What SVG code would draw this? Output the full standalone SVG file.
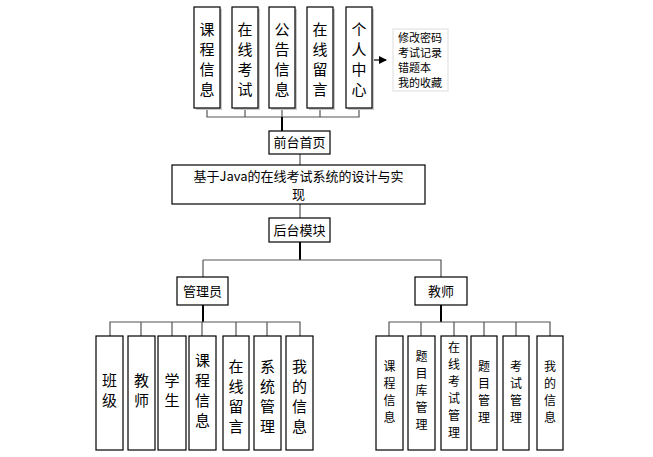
<svg xmlns="http://www.w3.org/2000/svg" width="653" height="457" viewBox="0 0 653 457">
<style>
.b{fill:#fff;stroke:#000;stroke-width:1.2}
.s{fill:#c8c8c8}
text{font-family:"Noto Sans CJK SC","Liberation Sans",sans-serif;fill:#000;text-anchor:middle}
.t{font-size:15px}
.m{font-size:13px}
.r{font-size:12px}
.n{font-size:11px;text-anchor:start}
.c{fill:none;stroke:#555;stroke-width:1.2}
.k{fill:none;stroke:#000;stroke-width:2}
</style>
<defs><marker id="a" markerWidth="8" markerHeight="8" refX="7" refY="4" orient="auto" markerUnits="userSpaceOnUse"><path d="M0,0L8,4L0,8z"/></marker></defs>
<g id="connectors">
<path class="c" d="M207,108V117H359V108M245,108V117M282,108V117M320,108V117"/>
<path class="k" d="M282,117V131"/>
<path class="c" d="M300,154V165M300,204V218"/>
<path class="k" d="M300,242V260"/>
<path class="c" d="M203,260H441V277M203,260V277"/>
<path class="k" d="M203,305V322M441,305V322"/>
<path class="c" d="M110,336V322H300V336M141,322V336M172,322V336M202,322V336M236,322V336M267,322V336"/>
<path class="c" d="M389,336V322H550V336M421,322V336M454,322V336M484,322V336M516,322V336"/>
<path d="M372,60H386" stroke="#333" stroke-width="1.5" marker-end="url(#a)"/>
</g>
<g id="top" class="t">
<g id="n1"><rect class="s" x="196" y="9" width="26" height="101"/><rect class="b" x="194" y="7" width="26" height="101"/><text x="207" y="35">课</text><text x="207" y="55">程</text><text x="207" y="75">信</text><text x="207" y="95">息</text></g>
<g id="n2"><rect class="s" x="234" y="9" width="26" height="101"/><rect class="b" x="232" y="7" width="26" height="101"/><text x="245" y="35">在</text><text x="245" y="55">线</text><text x="245" y="75">考</text><text x="245" y="95">试</text></g>
<g id="n3"><rect class="s" x="271" y="9" width="26" height="101"/><rect class="b" x="269" y="7" width="26" height="101"/><text x="282" y="35">公</text><text x="282" y="55">告</text><text x="282" y="75">信</text><text x="282" y="95">息</text></g>
<g id="n4"><rect class="s" x="309" y="9" width="26" height="101"/><rect class="b" x="307" y="7" width="26" height="101"/><text x="320" y="35">在</text><text x="320" y="55">线</text><text x="320" y="75">留</text><text x="320" y="95">言</text></g>
<g id="n5"><rect class="s" x="348" y="9" width="26" height="101"/><rect class="b" x="346" y="7" width="26" height="101"/><text x="359" y="35">个</text><text x="359" y="55">人</text><text x="359" y="75">中</text><text x="359" y="95">心</text></g>
<g id="note"><rect x="393" y="29" width="55" height="62" fill="#fff" stroke="#ddd"/><text class="n" x="398" y="42">修改密码</text><text class="n" x="398" y="57">考试记录</text><text class="n" x="398" y="72">错题本</text><text class="n" x="398" y="87">我的收藏</text></g>
</g>
<g id="home"><rect class="b" x="269" y="131" width="61" height="23"/><text class="m" x="299.5" y="147">前台首页</text></g>
<g id="title"><rect class="b" x="172" y="165" width="253" height="39"/><text class="m" x="298.5" y="181">基于Java的在线考试系统的设计与实</text><text class="m" x="298.5" y="199">现</text></g>
<g id="back"><rect class="b" x="269" y="218" width="61" height="24"/><text class="m" x="299.5" y="235">后台模块</text></g>
<g id="admin"><rect class="b" x="177" y="277" width="51" height="28"/><text class="m" x="202.5" y="296">管理员</text></g>
<g id="teacher"><rect class="b" x="415" y="277" width="52" height="28"/><text class="m" x="441" y="296">教师</text></g>
<g id="left" class="t">
<g id="l1"><rect class="b" x="96" y="336" width="27" height="114"/><text x="109.5" y="386">班</text><text x="109.5" y="406">级</text></g>
<g id="l2"><rect class="b" x="128" y="336" width="27" height="114"/><text x="141.5" y="386">教</text><text x="141.5" y="406">师</text></g>
<g id="l3"><rect class="b" x="158" y="336" width="28" height="114"/><text x="172" y="386">学</text><text x="172" y="406">生</text></g>
<g id="l4"><rect class="b" x="189" y="336" width="27" height="114"/><text x="202.5" y="366">课</text><text x="202.5" y="386">程</text><text x="202.5" y="406">信</text><text x="202.5" y="426">息</text></g>
<g id="l5"><rect class="b" x="223" y="336" width="26" height="114"/><text x="236" y="372">在</text><text x="236" y="392">线</text><text x="236" y="412">留</text><text x="236" y="432">言</text></g>
<g id="l6"><rect class="b" x="254" y="336" width="27" height="114"/><text x="267.5" y="372">系</text><text x="267.5" y="392">统</text><text x="267.5" y="412">管</text><text x="267.5" y="432">理</text></g>
<g id="l7"><rect class="b" x="286" y="336" width="27" height="114"/><text x="299.5" y="372">我</text><text x="299.5" y="392">的</text><text x="299.5" y="412">信</text><text x="299.5" y="432">息</text></g>
</g>
<g id="right" class="r">
<g id="r1"><rect class="b" x="376" y="336" width="27" height="114"/><text x="389.5" y="371">课</text><text x="389.5" y="388">程</text><text x="389.5" y="405">信</text><text x="389.5" y="422">息</text></g>
<g id="r2"><rect class="b" x="408" y="336" width="27" height="114"/><text x="421.5" y="361">题</text><text x="421.5" y="378">目</text><text x="421.5" y="395">库</text><text x="421.5" y="412">管</text><text x="421.5" y="429">理</text></g>
<g id="r3"><rect class="b" x="441" y="336" width="26" height="114"/><text x="454" y="352">在</text><text x="454" y="369">线</text><text x="454" y="386">考</text><text x="454" y="403">试</text><text x="454" y="420">管</text><text x="454" y="437">理</text></g>
<g id="r4"><rect class="b" x="471" y="336" width="26" height="114"/><text x="484" y="371">题</text><text x="484" y="388">目</text><text x="484" y="405">管</text><text x="484" y="422">理</text></g>
<g id="r5"><rect class="b" x="503" y="336" width="26" height="114"/><text x="516" y="371">考</text><text x="516" y="388">试</text><text x="516" y="405">管</text><text x="516" y="422">理</text></g>
<g id="r6"><rect class="b" x="537" y="336" width="26" height="114"/><text x="550" y="371">我</text><text x="550" y="388">的</text><text x="550" y="405">信</text><text x="550" y="422">息</text></g>
</g>
</svg>
